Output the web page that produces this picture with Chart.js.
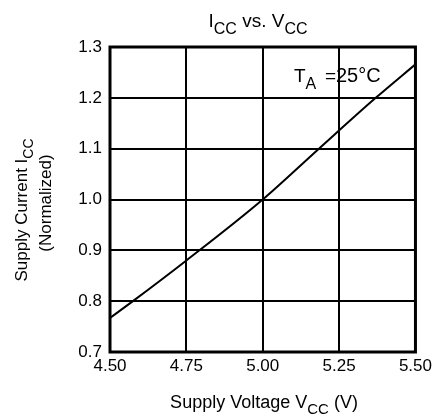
<!DOCTYPE html>
<html>
<head>
<meta charset="utf-8">
<script src="https://cdn.jsdelivr.net/npm/chart.js@4.4.1/dist/chart.umd.min.js"></script>
<style>
  body { margin: 0; background: #fff; }
  #wrap { width: 436px; height: 415px; position: relative; }
</style>
</head>
<body>
<div id="wrap"><canvas id="chart-icc"></canvas></div>
<script>
// supply voltage (V) vs normalized supply current
const vcc = [4.50, 4.575, 4.75, 5.00, 5.184, 5.37, 5.50];
const icc = [0.767, 0.80, 0.88, 1.00, 1.10, 1.20, 1.266];
const xTicks = [4.50, 4.75, 5.00, 5.25, 5.50];
const yTicks = [0.7, 0.8, 0.9, 1.0, 1.1, 1.2, 1.3];

const FONT = '"Liberation Sans", Arial, sans-serif';

// draw a run of text pieces, some of them subscript
function drawParts(ctx, parts, x, y, size, subSize, align) {
  let total = 0;
  parts.forEach((p) => {
    ctx.font = (p.sub ? subSize : size) + 'px ' + FONT;
    total += ctx.measureText(p.t).width;
  });
  let cx = align === 'center' ? x - total / 2 : x;
  parts.forEach((p) => {
    ctx.font = (p.sub ? subSize : size) + 'px ' + FONT;
    ctx.fillText(p.t, cx, p.sub ? y + size * 0.35 : y);
    cx += ctx.measureText(p.t).width;
  });
}

const textPlugin = {
  id: 'texts',
  afterDraw(chart) {
    const ctx = chart.ctx;
    const a = chart.chartArea;
    ctx.save();
    // frame
    ctx.strokeStyle = '#000';
    ctx.lineWidth = 3;
    ctx.strokeRect(a.left, a.top, a.right - a.left, a.bottom - a.top);

    ctx.fillStyle = '#000';
    ctx.textAlign = 'left';
    ctx.textBaseline = 'alphabetic';

    // title
    drawParts(ctx, [
      { t: 'I' }, { t: 'CC', sub: true }, { t: ' vs. ' }, { t: 'V' }, { t: 'CC', sub: true }
    ], 258, 27, 19, 16, 'center');

    // annotation
    drawParts(ctx, [{ t: 'T' }, { t: 'A', sub: true }], 294, 82, 19, 16, 'left');
    drawParts(ctx, [{ t: '=' }], 325, 82, 19, 16, 'left');
    drawParts(ctx, [{ t: '25°C' }], 336, 82, 20, 16, 'left');

    // x axis title
    drawParts(ctx, [
      { t: 'Supply Voltage V' }, { t: 'CC', sub: true }, { t: ' (V)' }
    ], 264, 408, 18, 15, 'center');

    // y axis titles (rotated)
    ctx.save();
    ctx.translate(27, 210);
    ctx.rotate(-Math.PI / 2);
    drawParts(ctx, [
      { t: 'Supply Current I' }, { t: 'CC', sub: true }
    ], 0, 0, 17, 14, 'center');
    ctx.restore();

    ctx.save();
    ctx.translate(51, 203);
    ctx.rotate(-Math.PI / 2);
    drawParts(ctx, [{ t: '(Normalized)' }], 0, 0, 17, 14, 'center');
    ctx.restore();

    ctx.restore();
  }
};

new Chart(document.getElementById('chart-icc'), {
  type: 'scatter',
  data: {
    datasets: [{
      data: vcc.map((v, i) => ({ x: v, y: icc[i] })),
      showLine: true,
      borderColor: '#000',
      borderWidth: 2,
      pointRadius: 0,
      tension: 0.3,
      cubicInterpolationMode: 'monotone',
    }],
  },
  plugins: [textPlugin],
  options: {
    responsive: true,
    maintainAspectRatio: false,
    animation: false,
    layout: { padding: { top: 47, right: 19, left: 0, bottom: 0 } },
    plugins: { legend: { display: false }, tooltip: { enabled: false } },
    scales: {
      x: {
        type: 'linear',
        min: 4.5,
        max: 5.5,
        afterFit: (s) => { s.height = 63; },
        afterBuildTicks: (s) => { s.ticks = xTicks.map((v) => ({ value: v })); },
        grid: { color: '#000', lineWidth: 2, drawTicks: false },
        border: { display: false },
        ticks: {
          color: '#000',
          padding: 4,
          font: { family: FONT, size: 17 },
          maxRotation: 0,
          callback: (v) => Number(v).toFixed(2),
        },
      },
      y: {
        min: 0.7,
        max: 1.3,
        afterFit: (s) => { s.width = 110; },
        afterBuildTicks: (s) => { s.ticks = yTicks.map((v) => ({ value: v })); },
        grid: { color: '#000', lineWidth: 2, drawTicks: false },
        border: { display: false },
        ticks: {
          color: '#000',
          padding: 8,
          font: { family: FONT, size: 17 },
          callback: (v) => Number(v).toFixed(1),
        },
      },
    },
  },
});
</script>
</body>
</html>
